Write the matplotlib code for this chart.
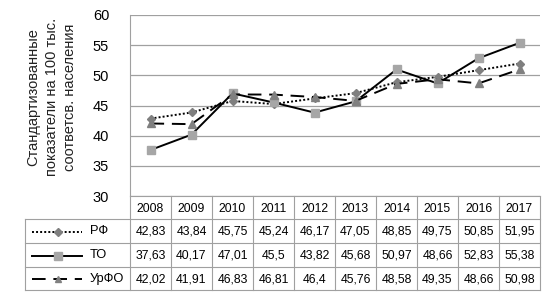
import numpy as np
import matplotlib
matplotlib.use("Agg")
import matplotlib.pyplot as plt
from matplotlib.lines import Line2D

# ── data ──────────────────────────────────────────────────────────
years = [2008, 2009, 2010, 2011, 2012, 2013, 2014, 2015, 2016, 2017]
rf   = [42.83, 43.84, 45.75, 45.24, 46.17, 47.05, 48.85, 49.75, 50.85, 51.95]
to   = [37.63, 40.17, 47.01, 45.5, 43.82, 45.68, 50.97, 48.66, 52.83, 55.38]
urfo = [42.02, 41.91, 46.83, 46.81, 46.4, 45.76, 48.58, 49.35, 48.66, 50.98]
names = ["РФ", "ТО", "УрФО"]
yticks = [30, 35, 40, 45, 50, 55, 60]

plt.rcParams['font.family'] = ['Liberation Sans', 'DejaVu Sans']

W, H = 542, 298
fig = plt.figure(figsize=(W / 100, H / 100), dpi=100)

# ── pixel layout ──────────────────────────────────────────────────
x0, x1 = 130, 540
y_top, y_bot = 15, 196
row_edges = [196, 219, 243, 267, 290]
leg_left = 25

ax = fig.add_axes([x0 / W, 1 - y_bot / H, (x1 - x0) / W, (y_bot - y_top) / H])
n = len(years)
xs = np.arange(n)

styles = [
    dict(ls=(0, (1, 1.1)), marker="D", mfc="#7f7f7f", mec="#7f7f7f", ms=4.5),
    dict(ls="-", marker="s", mfc="#a6a6a6", mec="#a6a6a6", ms=6),
    dict(ls=(0, (7, 4)), marker="^", mfc="#808080", mec="#808080", ms=5.5),
]
series = [rf, to, urfo]
for vals, st in zip(series, styles):
    ax.plot(xs, vals, color="black", lw=1.4, **st)

ax.set_xlim(-0.5, n - 0.5)
ax.set_ylim(30, 60)
ax.set_yticks(yticks)
ax.set_yticklabels([str(t) for t in yticks], fontsize=10.5)
ax.set_xticks([])
ax.grid(axis="y", color="#a0a0a0", lw=0.9)
ax.tick_params(axis="y", length=0, pad=15)
for s in ["top", "right", "bottom"]:
    ax.spines[s].set_visible(False)
ax.spines["left"].set_color("#a0a0a0")
ax.set_axisbelow(True)

fig.text(52 / W, 1 - 97 / H,
         "Стандартизованные\nпоказатели на 100 тыс.\nсоответсв. населения",
         rotation=90, ha="center", va="center", fontsize=10.5,
         linespacing=1.4, color="#222222")

# ── data table ────────────────────────────────────────────────────
tab = fig.add_axes([0, 0, 1, 1])
tab.set_xlim(0, W)
tab.set_ylim(H, 0)
tab.axis("off")
cw = (x1 - x0) / n
gc = "#a0a0a0"

for k in range(n + 1):
    xv = x0 + k * cw
    tab.plot([xv, xv], [row_edges[0], row_edges[-1]], color=gc, lw=0.8)
tab.plot([leg_left, leg_left], [row_edges[1], row_edges[-1]], color=gc, lw=0.8)
tab.plot([x0, x1], [row_edges[0], row_edges[0]], color=gc, lw=0.8)
for ye in row_edges[1:]:
    tab.plot([leg_left, x1], [ye, ye], color=gc, lw=0.8)

fs = 8.8
for k, yr in enumerate(years):
    tab.text(x0 + (k + 0.5) * cw, (row_edges[0] + row_edges[1]) / 2 + 1, str(yr),
             ha="center", va="center", fontsize=fs)

for r, (vals, st, nm) in enumerate(zip(series, styles, names)):
    yc = (row_edges[r + 1] + row_edges[r + 2]) / 2 + 0.5
    for k, v in enumerate(vals):
        txt = f"{v:g}".replace(".", ",")
        tab.text(x0 + (k + 0.5) * cw, yc, txt, ha="center", va="center", fontsize=fs)
    tab.add_line(Line2D([32, 82], [yc, yc], color="black", lw=1.4, ls=st["ls"]))
    tab.add_line(Line2D([58], [yc], marker=st["marker"], mfc=st["mfc"], mec=st["mec"],
                        ms=st["ms"] - 0.5, ls="none"))
    tab.text(90, yc, nm, ha="left", va="center", fontsize=fs + 0.5)

fig.savefig("out.png", dpi=100)
